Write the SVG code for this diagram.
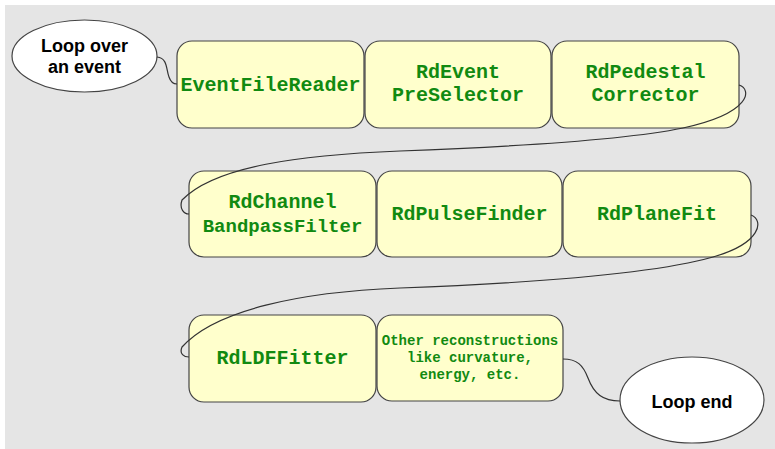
<svg xmlns="http://www.w3.org/2000/svg" width="775" height="449" viewBox="0 0 775 449">
<style>
.box{fill:#ffffcc;stroke:#444;stroke-width:1.2}
.oval{fill:#fff;stroke:#444;stroke-width:1.2}
.t{font-family:"Liberation Mono",monospace;font-weight:bold;font-size:20px;fill:#118a11;text-anchor:middle}
.s{font-size:14px}
.o{font-family:"Liberation Sans",Arial,sans-serif;font-weight:bold;font-size:18px;fill:#000;text-anchor:middle}
.c{fill:none;stroke:#333;stroke-width:1.2}
</style>
<rect x="5" y="5" width="770" height="444" fill="#e5e5e5"/>
<g id="loop-start">
<ellipse class="oval" cx="84.5" cy="56" rx="72.5" ry="36"/>
<text class="o" x="84.5" y="52">Loop over</text>
<text class="o" x="84.5" y="73">an event</text>
</g>
<g id="EventFileReader">
<rect class="box" x="177" y="41" width="187" height="87" rx="15"/>
<text class="t" x="270.5" y="91">EventFileReader</text>
</g>
<g id="RdEventPreSelector">
<rect class="box" x="365" y="41" width="186" height="87" rx="15"/>
<text class="t" x="458" y="78">RdEvent</text>
<text class="t" x="458" y="101">PreSelector</text>
</g>
<g id="RdPedestalCorrector">
<rect class="box" x="552" y="41" width="187" height="87" rx="15"/>
<text class="t" x="645.5" y="78">RdPedestal</text>
<text class="t" x="645.5" y="101">Corrector</text>
</g>
<g id="RdChannelBandpassFilter">
<rect class="box" x="189" y="171" width="187" height="86" rx="15"/>
<text class="t" x="282.5" y="208">RdChannel</text>
<text class="t" x="282.5" y="232" style="font-size:19px">BandpassFilter</text>
</g>
<g id="RdPulseFinder">
<rect class="box" x="377" y="171" width="185" height="86" rx="15"/>
<text class="t" x="469.5" y="220">RdPulseFinder</text>
</g>
<g id="RdPlaneFit">
<rect class="box" x="563" y="171" width="188" height="86" rx="15"/>
<text class="t" x="657" y="220">RdPlaneFit</text>
</g>
<g id="RdLDFFitter">
<rect class="box" x="189" y="315" width="187" height="87" rx="15"/>
<text class="t" x="282.5" y="364">RdLDFFitter</text>
</g>
<g id="OtherReconstructions">
<rect class="box" x="377" y="315" width="186" height="86" rx="15"/>
<text class="t s" x="470" y="345">Other reconstructions</text>
<text class="t s" x="470" y="362">like curvature,</text>
<text class="t s" x="470" y="379">energy, etc.</text>
</g>
<g id="loop-end">
<ellipse class="oval" cx="692" cy="400" rx="72" ry="43"/>
<text class="o" x="692" y="408">Loop end</text>
</g>
<g id="connectors">
<path class="c" d="M157,57 C168,58 166,70 169,77 C171,83 174,84 177,84"/>
<path class="c" d="M739,85 C752,89 752,113 683,128 C620,141 480,148 400,151 C300,155 215,166 182,200 C179,209 184,214 189,214"/>
<path class="c" d="M751,215 C764,220 762,243 713,257 C660,272 560,282 400,288 C300,292 215,310 182,347 C179,354 184,357 189,357"/>
<path class="c" d="M563,359 C577,359 583,365 588,378 C594,394 603,401 620,401"/>
</g>
</svg>
